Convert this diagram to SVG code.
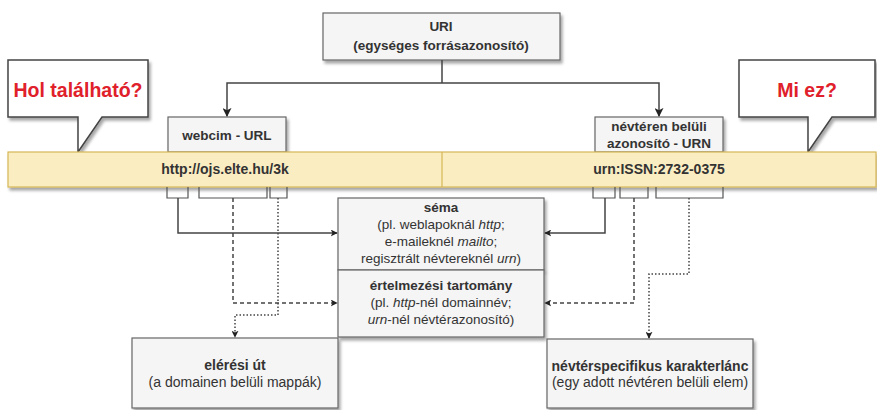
<svg xmlns="http://www.w3.org/2000/svg" width="877" height="410" viewBox="0 0 877 410">
<defs>
<filter id="sh" x="-10%" y="-20%" width="130%" height="150%">
<feDropShadow dx="2" dy="3" stdDeviation="1.5" flood-color="#000" flood-opacity="0.35"/>
</filter>
<marker id="ah" viewBox="0 0 10 10" refX="9" refY="5" markerWidth="7" markerHeight="7" orient="auto" markerUnits="userSpaceOnUse">
<path d="M0,0 L10,5 L0,10 L2.5,5 Z" fill="#222"/>
</marker>
<marker id="ahs" viewBox="0 0 10 10" refX="9" refY="5" markerWidth="9" markerHeight="9" orient="auto" markerUnits="userSpaceOnUse">
<path d="M0,0 L10,5 L0,10 L2.5,5 Z" fill="#222"/>
</marker>
</defs>
<style>
.box{fill:#f5f5f5;stroke:#666;stroke-width:1.2;filter:url(#sh)}
.call{fill:#fff;stroke:#444;stroke-width:1.5;filter:url(#sh)}
.bar{fill:#fbedc2;stroke:#d6b656;stroke-width:1.2;filter:url(#sh)}
text{font-family:"Liberation Sans",Arial,sans-serif;font-size:13.5px;fill:#333;text-anchor:middle}
.b{font-weight:bold}
.l{font-size:14px}
.q{font-weight:bold;font-size:19.5px;fill:#e0202a}
.ln{fill:none;stroke:#444;stroke-width:1.5}
.br{fill:none;stroke:#555;stroke-width:1.2}
.dash{stroke-dasharray:4 3}
.dot{stroke-dasharray:1.5 2}
</style>
<g id="callout-left">
<path class="call" d="M8,60 H148 V117 H102 L78,152 V117 H8 Z"/>
<text class="q" x="78" y="97">Hol található?</text>
</g>
<g id="callout-right">
<path class="call" d="M739,60 H875 V117 H832 L808,152 V117 H739 Z"/>
<text class="q" x="807" y="97">Mi ez?</text>
</g>
<g id="uri">
<rect class="box" x="323" y="13" width="237" height="47"/>
<text class="b" x="441" y="31">URI</text>
<text class="b" x="441" y="50">(egységes forrásazonosító)</text>
</g>
<g id="url">
<rect class="box" x="168" y="117" width="118" height="35"/>
<text class="b" x="227" y="140">webcim - URL</text>
</g>
<g id="urn">
<rect class="box" x="595" y="117" width="128" height="35"/>
<text class="b" x="659" y="131">névtéren belüli</text>
<text class="b" x="659" y="148">azonosító - URN</text>
</g>
<g id="bar">
<rect class="bar" x="8" y="152" width="868" height="35"/>
<line x1="442" y1="152" x2="442" y2="187" stroke="#d6b656" stroke-width="1.2"/>
<text class="b l" x="225" y="174">http://ojs.elte.hu/3k</text>
<text class="b l" x="659" y="174">urn:ISSN:2732-0375</text>
</g>
<g id="sema">
<rect class="box" x="338" y="198" width="206" height="72"/>
<text class="b" x="441" y="212">séma</text>
<text x="441" y="229">(pl. weblapoknál <tspan font-style="italic">http</tspan>;</text>
<text x="441" y="246">e-maileknél <tspan font-style="italic">mailto</tspan>;</text>
<text x="441" y="263">regisztrált névtereknél <tspan font-style="italic">urn</tspan>)</text>
</g>
<g id="ertelmezesi">
<rect class="box" x="338" y="270" width="206" height="67"/>
<text class="b" x="441" y="290">értelmezési tartomány</text>
<text x="441" y="307">(pl. <tspan font-style="italic">http</tspan>-nél domainnév;</text>
<text x="441" y="324"><tspan font-style="italic">urn</tspan>-nél névtérazonosító)</text>
</g>
<g id="eleresi">
<rect class="box" x="132" y="338" width="206" height="70"/>
<text class="b l" x="235" y="370">elérési út</text>
<text class="l" x="235" y="387">(a domainen belüli mappák)</text>
</g>
<g id="nevterspec">
<rect class="box" x="547" y="339" width="206" height="69"/>
<text class="b l" x="650" y="371">névtérspecifikus karakterlánc</text>
<text class="l" x="650" y="387">(egy adott névtéren belüli elem)</text>
</g>
<g id="connectors">
<path class="ln" d="M442,60 V83"/>
<path class="ln" d="M442,83 H227 V116" marker-end="url(#ahs)"/>
<path class="ln" d="M442,83 H659 V116" marker-end="url(#ahs)"/>
<path class="br" d="M167,187 V198 H188 V187 M199,187 V198 H267 V187 M270,187 V198 H287 V187"/>
<path class="br" d="M593,187 V198 H615 V187 M620,187 V198 H648 V187 M656,187 V198 H723 V187"/>
<path class="ln" d="M178,198 V233 H337" marker-end="url(#ah)"/>
<path class="ln dash" d="M233,198 V303 H337" marker-end="url(#ah)"/>
<path class="ln dot" d="M278,198 V315 H235 V337" marker-end="url(#ah)"/>
<path class="ln" d="M605,198 V233 H545" marker-end="url(#ah)"/>
<path class="ln dash" d="M634,198 V303 H545" marker-end="url(#ah)"/>
<path class="ln dot" d="M689,198 V274 H649 V338" marker-end="url(#ah)"/>
</g>
</svg>
